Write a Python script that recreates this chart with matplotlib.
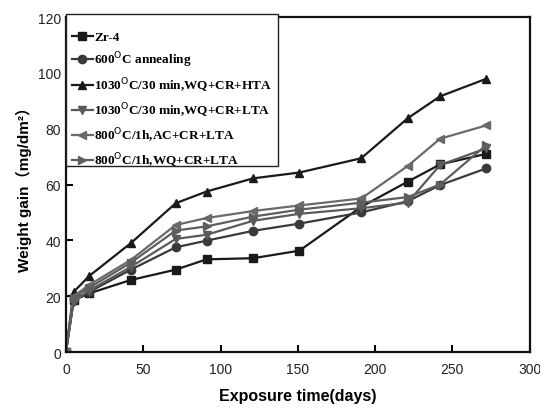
import matplotlib
matplotlib.use("Agg")
import matplotlib.pyplot as plt
from matplotlib.patches import Rectangle

days = [0, 5, 15, 42, 71, 91, 121, 151, 191, 221, 242, 272]

zr4 = [0, 18.5, 21, 25.8, 29.5, 33.2, 33.6, 36.3, 52, 61, 67.2, 71]
ann600 = [0, 19, 21.5, 29.5, 37.5, 39.9, 43.4, 46, 50, 54, 59.8, 65.8]
hta1030 = [0, 21.5, 27.2, 39, 53.3, 57.5, 62.2, 64.3, 69.4, 83.7, 91.6, 97.9]
lta1030 = [0, 18, 22, 30.5, 40.5, 42, 47, 49.5, 51.5, 53.5, 67, 73]
ac800 = [0, 20, 24, 33, 45.5, 48, 50.5, 52.5, 55, 66.6, 76.4, 81.2]
wq800 = [0, 19.5, 23, 32, 43.5, 45, 48.5, 51, 53.5, 55.5, 60, 74.2]

labels = [
    "Zr-4",
    "600$^{\\mathrm{O}}$C annealing",
    "1030$^{\\mathrm{O}}$C/30 min,WQ+CR+HTA",
    "1030$^{\\mathrm{O}}$C/30 min,WQ+CR+LTA",
    "800$^{\\mathrm{O}}$C/1h,AC+CR+LTA",
    "800$^{\\mathrm{O}}$C/1h,WQ+CR+LTA",
]

series = [zr4, ann600, hta1030, lta1030, ac800, wq800]
markers = ["s", "o", "^", "v", "<", ">"]
colors = ["#1a1a1a", "#3a3a3a", "#1a1a1a", "#5a5a5a", "#6a6a6a", "#5e5e5e"]

fig = plt.figure(figsize=(5.4, 4.1), dpi=100)
ax = fig.add_axes([0.122, 0.139, 0.859, 0.817])

for vals, m, c, lab in zip(series, markers, colors, labels):
    ax.plot(days, vals, marker=m, color=c, markerfacecolor=c, markeredgecolor=c,
            markersize=6, linewidth=1.6, label=lab)

ax.set_xlim(0, 300)
ax.set_ylim(0, 120)
ax.set_xticks([0, 50, 100, 150, 200, 250, 300])
ax.set_yticks([0, 20, 40, 60, 80, 100, 120])
ax.tick_params(direction="in", length=5, width=1.5, labelsize=10,
               labelcolor="#222222")
ax.tick_params(axis="x", pad=7)
for lbl in ax.get_xticklabels() + ax.get_yticklabels():
    lbl.set_family("Liberation Sans")
for s in ax.spines.values():
    s.set_linewidth(1.6)
    s.set_color("#111111")

ax.set_xlabel("Exposure time(days)", fontsize=11.5, fontweight="bold",
              family="Liberation Sans", labelpad=9)
ax.set_ylabel("Weight gain（mg/dm²）", fontsize=11, fontweight="bold",
              family=["Liberation Sans", "Noto Sans CJK SC"], labelpad=4)

# legend box drawn separately so the entries sit low inside it
box = Rectangle((0, 0.555), 0.457, 0.454, transform=ax.transAxes,
                facecolor="white", edgecolor="#222222", linewidth=1.0,
                clip_on=False, zorder=4)
ax.add_patch(box)

leg = ax.legend(loc="upper left", bbox_to_anchor=(0, 0.976), borderaxespad=0,
                frameon=False, handlelength=1.6,
                handletextpad=0.1, labelspacing=0.5, borderpad=0.45,
                prop={"family": "Liberation Serif", "weight": "bold", "size": 9.5})
leg.set_zorder(5)

fig.savefig("out.png", dpi=100)
